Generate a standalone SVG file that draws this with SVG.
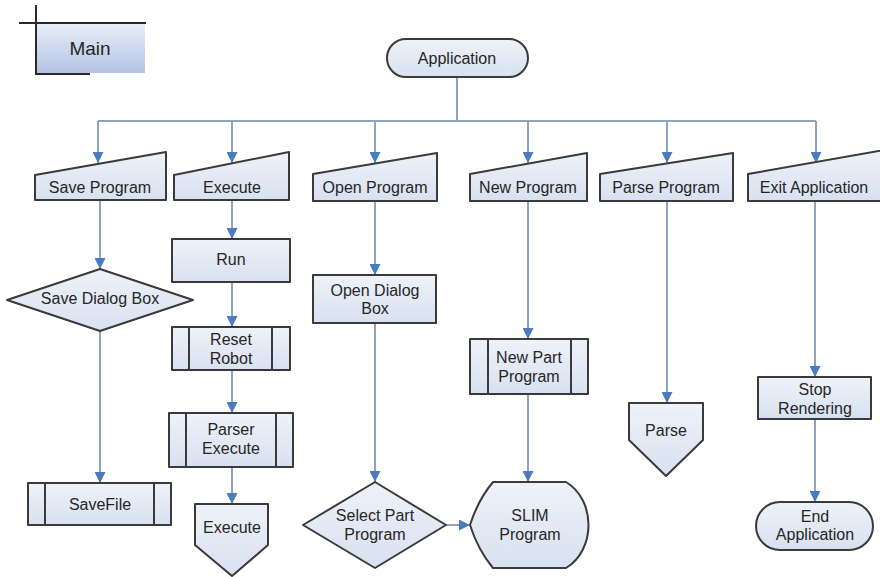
<svg xmlns="http://www.w3.org/2000/svg" width="880" height="577" viewBox="0 0 880 577">
  <defs>
    <linearGradient id="shapeFill" x1="0" y1="0" x2="0" y2="1">
      <stop offset="0" stop-color="#eef2f9"/>
      <stop offset="1" stop-color="#d8e1f0"/>
    </linearGradient>
    <linearGradient id="mainFill" x1="0" y1="0" x2="0" y2="1">
      <stop offset="0" stop-color="#e9eef8"/>
      <stop offset="1" stop-color="#b2c3e3"/>
    </linearGradient>
    <marker id="arrow" viewBox="0 0 10 10" refX="10" refY="5" markerWidth="5.5" markerHeight="5.5" orient="auto" markerUnits="strokeWidth">
      <path d="M0,0 L10,5 L0,10 Z" fill="#4a7bbf"/>
    </marker>
  </defs>
  <style>
    .shape { fill: url(#shapeFill); stroke: #3a3a3a; stroke-width: 2; stroke-linejoin: round; }
    .bar { stroke: #3a3a3a; stroke-width: 2; fill: none; }
    .label { font-family: "Liberation Sans", Arial, sans-serif; font-size: 16px; fill: #262626; text-anchor: middle; dominant-baseline: central; }
    .conn { stroke: #8ea3c4; stroke-width: 2; fill: none; }
    .conn.arr { marker-end: url(#arrow); }
  </style>

  <rect width="880" height="577" fill="#ffffff"/>

  <!-- swimlane-style title block -->
  <g id="main">
    <rect x="37" y="24" width="108" height="49" fill="url(#mainFill)"/>
    <line x1="19" y1="23" x2="146" y2="23" stroke="#2a2a2a" stroke-width="2"/>
    <line x1="36" y1="5" x2="36" y2="75" stroke="#2a2a2a" stroke-width="2"/>
    <line x1="36" y1="74" x2="90" y2="74" stroke="#2a2a2a" stroke-width="2"/>
    <text class="label" x="90" y="48" style="font-size:19px">Main</text>
  </g>

  <!-- connectors -->
  <g id="connectors">
    <polyline class="conn" points="457,77 457,121"/>
    <polyline class="conn" points="98,121 816,121"/>
    <line class="conn arr" x1="98" y1="121" x2="98" y2="163"/>
    <line class="conn arr" x1="232" y1="121" x2="232" y2="163"/>
    <line class="conn arr" x1="375" y1="121" x2="375" y2="163"/>
    <line class="conn arr" x1="528" y1="121" x2="528" y2="163"/>
    <line class="conn arr" x1="667" y1="121" x2="667" y2="163"/>
    <line class="conn arr" x1="816" y1="121" x2="816" y2="163"/>

    <line class="conn arr" x1="100" y1="200" x2="100" y2="269"/>
    <line class="conn arr" x1="100" y1="331" x2="100" y2="483"/>

    <line class="conn arr" x1="232" y1="200" x2="232" y2="239"/>
    <line class="conn arr" x1="232" y1="282" x2="232" y2="327"/>
    <line class="conn arr" x1="232" y1="370" x2="232" y2="413"/>
    <line class="conn arr" x1="232" y1="467" x2="232" y2="504"/>

    <line class="conn arr" x1="375" y1="201" x2="375" y2="275"/>
    <line class="conn arr" x1="375" y1="323" x2="375" y2="482"/>
    <line class="conn arr" x1="446" y1="525" x2="470" y2="525"/>

    <line class="conn arr" x1="528" y1="201" x2="528" y2="339"/>
    <line class="conn arr" x1="528" y1="394" x2="528" y2="482"/>

    <line class="conn arr" x1="667" y1="201" x2="667" y2="403"/>

    <line class="conn arr" x1="815" y1="201" x2="815" y2="377"/>
    <line class="conn arr" x1="815" y1="419" x2="815" y2="502"/>
  </g>

  <g id="application">
    <rect class="shape" x="387" y="39" width="141" height="38" rx="19" ry="19"/>
    <text class="label" x="457" y="58">Application</text>
  </g>

  <!-- manual-input menu entries -->
  <g id="save-program">
    <polygon class="shape" points="35,175 166,152 166,200 35,200"/>
    <text class="label" x="100" y="187">Save Program</text>
  </g>
  <g id="execute-menu">
    <polygon class="shape" points="174,175 289,152 289,200 174,200"/>
    <text class="label" x="232" y="187">Execute</text>
  </g>
  <g id="open-program">
    <polygon class="shape" points="313,174 437,153 437,201 313,201"/>
    <text class="label" x="375" y="187">Open Program</text>
  </g>
  <g id="new-program">
    <polygon class="shape" points="470,174 587,153 587,201 470,201"/>
    <text class="label" x="528" y="187">New Program</text>
  </g>
  <g id="parse-program">
    <polygon class="shape" points="600,174 733,153 733,201 600,201"/>
    <text class="label" x="666" y="187">Parse Program</text>
  </g>
  <g id="exit-application">
    <polygon class="shape" points="748,174 884,150 884,201 748,201"/>
    <text class="label" x="814" y="187">Exit Application</text>
  </g>

  <!-- Save Program branch -->
  <g id="save-dialog-box">
    <polygon class="shape" points="7,300 100,269 193,300 100,331"/>
    <text class="label" x="100" y="298">Save Dialog Box</text>
  </g>
  <g id="savefile">
    <rect class="shape" x="28" y="483" width="143" height="42"/>
    <line class="bar" x1="45" y1="483" x2="45" y2="525"/>
    <line class="bar" x1="154" y1="483" x2="154" y2="525"/>
    <text class="label" x="100" y="504">SaveFile</text>
  </g>

  <!-- Execute branch -->
  <g id="run">
    <rect class="shape" x="172" y="239" width="118" height="43"/>
    <text class="label" x="231" y="259">Run</text>
  </g>
  <g id="reset-robot">
    <rect class="shape" x="172" y="327" width="118" height="43"/>
    <line class="bar" x1="189" y1="327" x2="189" y2="370"/>
    <line class="bar" x1="272" y1="327" x2="272" y2="370"/>
    <text class="label" x="231" y="339">Reset</text>
    <text class="label" x="231" y="358">Robot</text>
  </g>
  <g id="parser-execute">
    <rect class="shape" x="169" y="413" width="124" height="54"/>
    <line class="bar" x1="186" y1="413" x2="186" y2="467"/>
    <line class="bar" x1="276" y1="413" x2="276" y2="467"/>
    <text class="label" x="231" y="429">Parser</text>
    <text class="label" x="231" y="448">Execute</text>
  </g>
  <g id="execute-offpage">
    <polygon class="shape" points="195,504 268,504 268,545 232,576 195,545"/>
    <text class="label" x="232" y="527">Execute</text>
  </g>

  <!-- Open Program branch -->
  <g id="open-dialog-box">
    <rect class="shape" x="313" y="275" width="123" height="48"/>
    <text class="label" x="375" y="290">Open Dialog</text>
    <text class="label" x="375" y="308">Box</text>
  </g>
  <g id="select-part-program">
    <polygon class="shape" points="303,525 375,482 446,525 375,568"/>
    <text class="label" x="375" y="515">Select Part</text>
    <text class="label" x="375" y="534">Program</text>
  </g>

  <!-- New Program branch -->
  <g id="new-part-program">
    <rect class="shape" x="470" y="339" width="118" height="55"/>
    <line class="bar" x1="488" y1="339" x2="488" y2="394"/>
    <line class="bar" x1="571" y1="339" x2="571" y2="394"/>
    <text class="label" x="529" y="357">New Part</text>
    <text class="label" x="529" y="376">Program</text>
  </g>
  <g id="slim-program">
    <path class="shape" d="M493,482 Q478,500 470,525 Q478,550 493,568 L566,568 C596,550 596,500 566,482 Z"/>
    <text class="label" x="530" y="515">SLIM</text>
    <text class="label" x="530" y="534">Program</text>
  </g>

  <!-- Parse Program branch -->
  <g id="parse-offpage">
    <polygon class="shape" points="629,403 703,403 703,440 666,476 629,440"/>
    <text class="label" x="666" y="430">Parse</text>
  </g>

  <!-- Exit Application branch -->
  <g id="stop-rendering">
    <rect class="shape" x="758" y="377" width="113" height="42"/>
    <text class="label" x="815" y="389">Stop</text>
    <text class="label" x="815" y="408">Rendering</text>
  </g>
  <g id="end-application">
    <rect class="shape" x="756" y="502" width="117" height="48" rx="24" ry="24"/>
    <text class="label" x="815" y="516">End</text>
    <text class="label" x="815" y="534">Application</text>
  </g>
</svg>
